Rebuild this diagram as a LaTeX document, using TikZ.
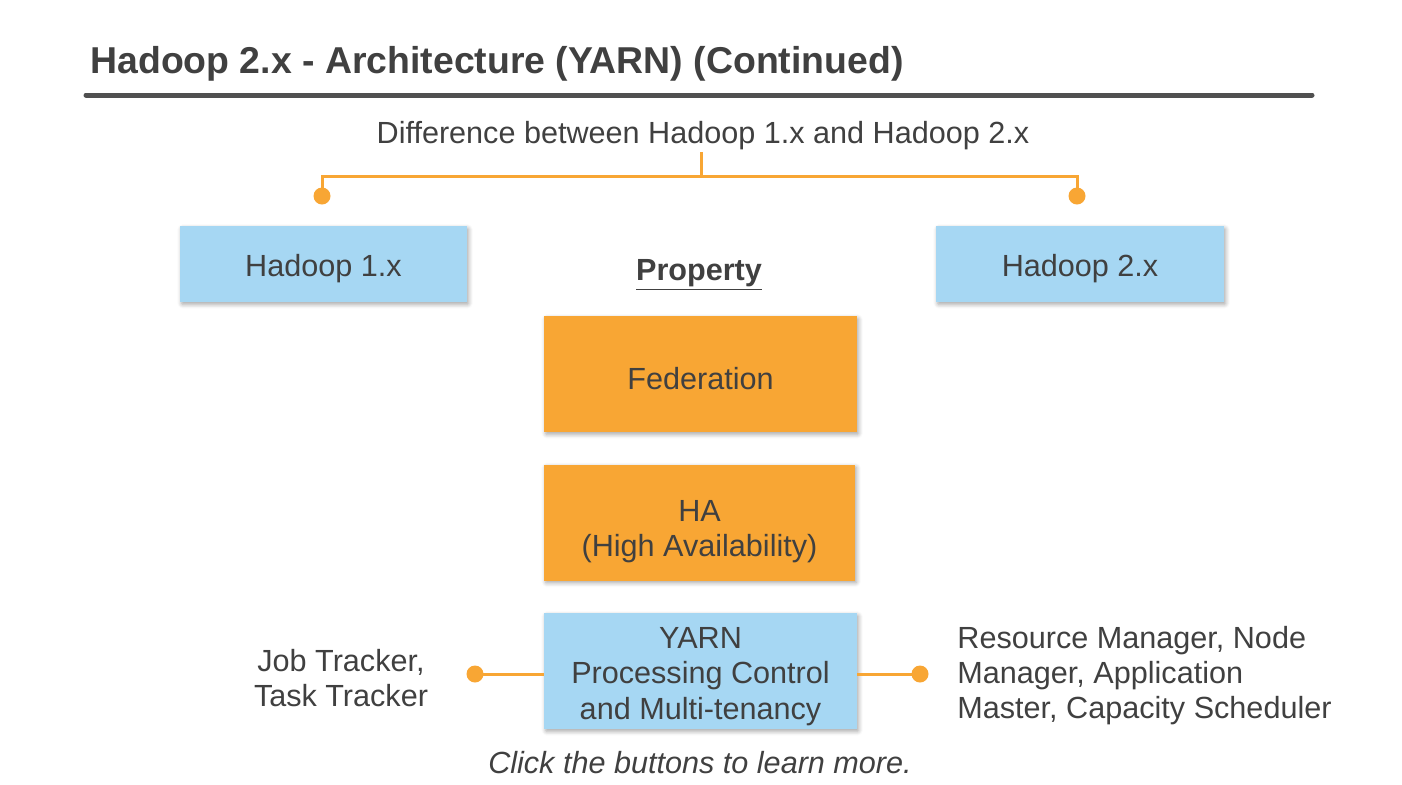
\documentclass[tikz,border=0pt]{standalone}
\usepackage{fontspec}
\setmainfont{Liberation Sans}
\usetikzlibrary{shadows.blur}
\definecolor{txt}{HTML}{404040}
\definecolor{orng}{HTML}{F8A634}
\definecolor{lblue}{HTML}{A6D7F3}
\definecolor{rulec}{HTML}{505050}
\newcommand\tstrut[1]{\rule{0pt}{#1}}
\begin{document}
\begin{tikzpicture}[x=0.5pt,y=-0.5pt,
  every node/.style={text=txt,font=\fontsize{15.3pt}{17.5pt}\selectfont,inner sep=0pt},
  box/.style={minimum width=#1, align=center,
    blur shadow={shadow xshift=0.8pt,shadow yshift=-1.2pt,shadow blur steps=5,shadow blur extra rounding=0.5pt,shadow opacity=35}},
  bluebox/.style={box=#1, fill=lblue, minimum height=38pt},
  orbox/.style={box=#1, fill=orng, minimum height=58pt},
  conn/.style={draw=orng, line width=1.5pt},
  dot/.style={circle, fill=orng, minimum size=8.5pt, inner sep=0pt}]
\useasboundingbox (0,0) rectangle (1402,784);
% title
\node[anchor=base west, font=\fontsize{18.7pt}{22pt}\selectfont\bfseries] (title) at (90,73) {Hadoop 2.x - Architecture (YARN) (Continued)};
\draw[rulec, line width=2.5pt, line cap=round] (86,95) -- (1312,95);
% difference bracket
\node (diff) at (703,136) {Difference between Hadoop 1.x and Hadoop 2.x};
\node[dot] (d1) at (322,196) {};
\node[dot] (d2) at (1077,196) {};
\coordinate (j) at (701,176);
\draw[conn] (701,152) -- (j);
\draw[conn] (d1.center) |- (j) -| (d2.center);
% top boxes
\node[bluebox=143.5pt] (h1) at (323.5,264) {\tstrut{15.2pt}Hadoop 1.x};
\node[bluebox=144pt] (h2) at (1080,264) {\tstrut{15.2pt}Hadoop 2.x};
\node[font=\fontsize{15.3pt}{17.5pt}\selectfont\bfseries] (prop) at (699,275) {\underline{Property}};
% property boxes
\node[orbox=156.5pt] (fed) at (700.5,374) {\tstrut{15.2pt}Federation};
\node[orbox=155.5pt] (ha) at (699.5,522.5) {\tstrut{19.2pt}HA\\(High Availability)};
\node[bluebox=156.5pt, minimum height=58pt, font=\fontsize{15.3pt}{17.75pt}\selectfont] (yarn) at (700.5,671) {\tstrut{15.7pt}YARN\\Processing Control\\and Multi-tenancy};
% side connectors
\node[dot] (dl) at (475,674) {};
\node[dot] (dr) at (920,674) {};
\draw[conn] (dl.center) -- (dl.center -| yarn.west);
\draw[conn] (dr.center -| yarn.east) -- (dr.center);
\node[align=center] (jt) at (341,678.5) {Job Tracker,\\Task Tracker};
\node[align=left, anchor=west] (rm) at (957,676) {Resource Manager, Node\\Manager, Application\\Master, Capacity Scheduler};
\node[font=\fontsize{15.3pt}{17.5pt}\selectfont\itshape] (click) at (700,763) {Click the buttons to learn more.};
\end{tikzpicture}
\end{document}
